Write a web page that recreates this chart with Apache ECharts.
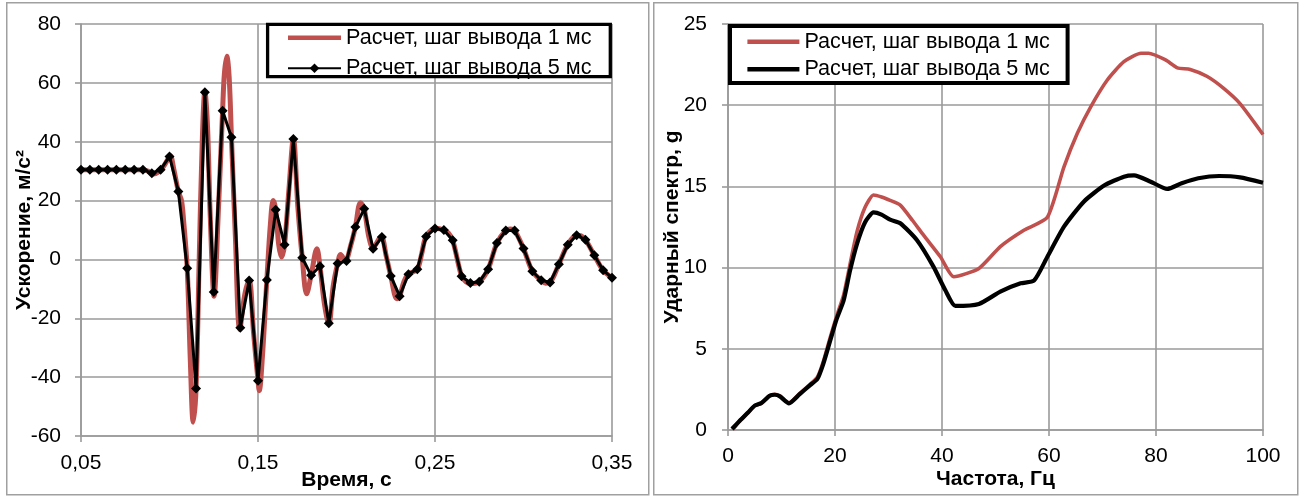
<!DOCTYPE html>
<html>
<head>
<meta charset="utf-8">
<script src="https://cdn.jsdelivr.net/npm/echarts@6/dist/echarts.min.js"></script>
<style>
  html, body { margin: 0; padding: 0; background: #fff; }
  #wrap { position: relative; width: 1300px; height: 497px; }
  #accelChart, #spectrumChart { position: absolute; top: 0; width: 650px; height: 497px; }
  #accelChart { left: 0; }
  #spectrumChart { left: 650px; }
</style>
</head>
<body>
<div id="wrap">
  <div id="accelChart"></div>
  <div id="spectrumChart"></div>
</div>
<script>
// ---- Series names ----
const nameStep1 = 'Расчет, шаг вывода 1 мс';
const nameStep5 = 'Расчет, шаг вывода 5 мс';

// ---- Acceleration, output step 1 ms (time, s / acceleration, m/s²) ----
const timeStep1 = [
  0.050, 0.085, 0.0885, 0.091, 0.0935, 0.0965, 0.100, 0.1005, 0.1025, 0.105,
  0.1068, 0.108, 0.110, 0.1118, 0.1134, 0.115, 0.1167, 0.1185, 0.120, 0.1215,
  0.123, 0.1252, 0.1275, 0.130, 0.131, 0.1324, 0.1337, 0.135, 0.1372, 0.1397,
  0.1425, 0.145, 0.1475, 0.150, 0.1507, 0.1525, 0.155, 0.157, 0.1586, 0.160,
  0.1617, 0.1633, 0.165, 0.1675, 0.170, 0.1725, 0.175, 0.1775, 0.180, 0.1833,
  0.185, 0.1875, 0.190, 0.1925, 0.195, 0.1967, 0.1993, 0.2025, 0.205, 0.2079,
  0.210, 0.2125, 0.215, 0.2195, 0.2225, 0.225, 0.2285, 0.230, 0.2325, 0.235,
  0.240, 0.2425, 0.245, 0.2505, 0.255, 0.2575, 0.260, 0.265, 0.2675, 0.270,
  0.275, 0.280, 0.285, 0.290, 0.2925, 0.295, 0.300, 0.305, 0.310, 0.3125,
  0.315, 0.320, 0.325, 0.330, 0.3325, 0.335, 0.340, 0.345, 0.350
];
const accelStep1 = [
  30.5, 30.5, 29.8, 29.0, 29.6, 31.5, 35.0, 35.2, 30.5, 23.1,
  20.0, 13.0, -3.0, -35.0, -55.3, -44.0, -2.0, 40.0, 57.0, 45.0,
  15.0, -12.5, 15.0, 50.5, 63.0, 69.0, 62.0, 41.5, 8.0, -23.8,
  -12.0, -7.2, -25.0, -41.2, -44.6, -33.0, -7.0, 12.0, 20.0, 16.9,
  5.0, 0.8, 5.0, 24.0, 41.0, 18.0, 0.6, -11.7, -5.4, 3.6,
  -2.3, -15.0, -22.0, -9.0, -1.4, 1.7, -0.5, 5.0, 11.0, 19.3,
  17.2, 8.0, 4.0, 7.8, 1.0, -5.6, -13.4, -12.5, -7.5, -5.0,
  -3.3, 2.0, 7.8, 10.6, 10.0, 9.0, 6.5, -5.7, -7.6, -8.2,
  -7.6, -3.3, 5.6, 9.8, 10.3, 9.8, 3.7, -4.0, -7.1, -8.1,
  -7.8, -1.6, 5.0, 8.2, 8.0, 6.7, 1.4, -3.7, -6.2
];

// ---- Acceleration, output step 5 ms ----
const timeStep5 = [
  0.050, 0.055, 0.060, 0.065, 0.070, 0.075, 0.080, 0.085, 0.090, 0.095,
  0.100, 0.105, 0.110, 0.115, 0.120, 0.125, 0.130, 0.135, 0.140, 0.145,
  0.150, 0.155, 0.160, 0.165, 0.170, 0.175, 0.180, 0.185, 0.190, 0.195,
  0.200, 0.205, 0.210, 0.215, 0.220, 0.225, 0.230, 0.235, 0.240, 0.245,
  0.250, 0.255, 0.260, 0.265, 0.270, 0.275, 0.280, 0.285, 0.290, 0.295,
  0.300, 0.305, 0.310, 0.315, 0.320, 0.325, 0.330, 0.335, 0.340, 0.345,
  0.350
];
const accelStep5 = [
  30.5, 30.5, 30.5, 30.5, 30.5, 30.5, 30.5, 30.5, 29.3, 30.5,
  35.0, 23.1, -3.0, -43.9, 56.8, -11.1, 50.5, 41.5, -23.2, -7.2,
  -41.2, -7.0, 16.9, 5.0, 40.9, 0.6, -5.4, -2.3, -21.7, -1.4,
  -0.5, 11.0, 17.2, 3.6, 7.6, -5.6, -12.5, -5.0, -3.3, 7.8,
  10.5, 10.0, 6.5, -5.7, -8.0, -7.6, -3.3, 5.6, 9.8, 9.8,
  3.7, -4.0, -7.1, -7.8, -1.6, 5.0, 8.2, 6.7, 1.4, -3.7,
  -6.2
];

// ---- Shock response spectrum, output step 1 ms (frequency, Hz / g) ----
const freqStep1 = [
  0.9, 2.2, 3.75, 5.0, 6.25, 7.8, 8.75, 9.7, 11.4, 13.4,
  15.3, 16.7, 17.8, 19.1, 20.3, 21.6, 22.8, 24.1, 25.6, 27.2,
  28.7, 30.3, 32.2, 34.5, 36.55, 39.7, 42.2, 46.9, 50.9, 55.3,
  59.7, 62.8, 65.3, 67.8, 70.9, 74.0, 77.2, 78.6, 81.7, 84.0,
  86.4, 89.5, 92.6, 95.7, 100
];
const srsStep1 = [
  0.03, 0.57, 1.08, 1.5, 1.65, 2.12, 2.2, 2.1, 1.68, 2.25,
  2.8, 3.25, 4.2, 5.7, 7.0, 8.3, 10.2, 12.2, 13.7, 14.47,
  14.35, 14.14, 13.85, 12.9, 12.0, 10.67, 9.44, 9.95, 11.29, 12.3,
  13.1, 16.2, 18.27, 19.9, 21.55, 22.68, 23.2, 23.2, 22.8, 22.3,
  22.2, 21.78, 21.05, 20.1, 18.2
];

// ---- Shock response spectrum, output step 5 ms ----
const freqStep5 = [
  0.75, 2.2, 3.75, 5.0, 6.25, 7.8, 8.75, 9.7, 11.4, 13.4,
  15.3, 16.7, 17.8, 19.1, 20.3, 21.6, 22.8, 24.1, 25.6, 27.2,
  28.7, 30.3, 32.2, 35.3, 38.4, 40.6, 42.5, 46.9, 50.9, 54.7,
  57.2, 59.7, 62.8, 66.5, 70.3, 74.0, 75.9, 79.0, 82.1, 84.8,
  87.9, 91.8, 95.7, 100
];
const srsStep5 = [
  0.06, 0.57, 1.08, 1.5, 1.66, 2.11, 2.17, 2.07, 1.64, 2.21,
  2.75, 3.14, 4.06, 5.5, 6.83, 7.96, 9.8, 11.45, 12.78, 13.4,
  13.26, 12.95, 12.73, 11.7, 10.06, 8.62, 7.64, 7.76, 8.52, 9.03,
  9.2, 10.67, 12.52, 14.06, 15.05, 15.6, 15.68, 15.29, 14.84, 15.19,
  15.5, 15.64, 15.56, 15.23
];

// ---- Axis settings ----
const accelAxisX = { min: 0.05, max: 0.35, interval: 0.1 };
const accelAxisY = { min: -60, max: 80, interval: 20 };
const srsAxisX = { min: 0, max: 100, interval: 20 };
const srsAxisY = { min: 0, max: 25, interval: 5 };

const RED = '#C0504D';
const GRID_GRAY = '#9a9a9a';
const FONT = "'Liberation Sans', Arial, sans-serif";
const TICK_SIZE = 21;
const TITLE_SIZE = 21;
const LEGEND_SIZE = 21.6;

const pairs = (xs, ys) => xs.map((x, i) => [x, ys[i]]);

function valueAxis(cfg, extra) {
  return Object.assign({
    type: 'value',
    min: cfg.min, max: cfg.max, interval: cfg.interval,
    axisLine: { show: true, onZero: false, lineStyle: { color: GRID_GRAY, width: 1.6 } },
    axisTick: { show: true, length: 6, lineStyle: { color: GRID_GRAY, width: 1.6 } },
    splitLine: { show: true, lineStyle: { color: GRID_GRAY, width: 1.6 } },
    nameLocation: 'middle',
    nameMoveOverlap: false,
    nameTextStyle: { color: '#000', fontSize: TITLE_SIZE, fontWeight: 'bold', fontFamily: FONT }
  }, extra);
}

function tickLabel(margin, formatter) {
  const o = { color: '#000', fontSize: TICK_SIZE, fontFamily: FONT, margin: margin };
  if (formatter) o.formatter = formatter;
  return o;
}

// Panel frame plus the framed legend box
function frameGraphics(panelLeft, panelWidth, box) {
  return [
    {
      type: 'rect', left: panelLeft, top: 2, z: -10, silent: true,
      shape: { width: panelWidth, height: 492 },
      style: { fill: '#fff', stroke: '#a0a0a0', lineWidth: 1.5 }
    },
    {
      type: 'rect', z: 5, silent: true,
      shape: { x: box.x, y: box.y, width: box.w, height: box.h },
      style: { fill: '#fff', stroke: '#000', lineWidth: box.lw }
    }
  ];
}

const linePath = 'path://M0,0H53V4.6H0Z';

function legendOpt(left, top, gap, itemWidth, icons) {
  return {
    orient: 'vertical', left: left, top: top, z: 10,
    padding: 0, itemGap: gap, itemWidth: itemWidth, itemHeight: 12,
    borderWidth: 0, backgroundColor: 'transparent',
    textStyle: { color: '#000', fontSize: LEGEND_SIZE, fontFamily: FONT },
    itemStyle: { borderWidth: 0 },
    data: [
      { name: nameStep1, icon: icons[0] },
      icons[1] ? { name: nameStep5, icon: icons[1] } : { name: nameStep5 }
    ]
  };
}

// ---- Left chart: acceleration ----
const accelChart = echarts.init(document.getElementById('accelChart'), null, { renderer: 'canvas' });
accelChart.setOption({
  animation: false,
  backgroundColor: '#fff',
  graphic: frameGraphics(6, 642, { x: 267.6, y: 24.4, w: 342.7, h: 52.2, lw: 3.3 }),
  grid: { left: 81, top: 24, width: 531, height: 412, containLabel: false, outerBoundsMode: 'none' },
  xAxis: valueAxis(accelAxisX, {
    name: 'Время, с', nameGap: 34,
    axisLabel: tickLabel(17, v => v.toFixed(2).replace('.', ','))
  }),
  yAxis: valueAxis(accelAxisY, {
    name: 'Ускорение, м/с²', nameGap: 46,
    axisLabel: tickLabel(20)
  }),
  legend: legendOpt(287, 26.8, 8.5, 53, [linePath, null]),
  series: [
    {
      name: nameStep1, type: 'line', data: pairs(timeStep1, accelStep1),
      smooth: 0.35, symbol: 'none', z: 2,
      itemStyle: { color: RED },
      lineStyle: { color: RED, width: 5 }
    },
    {
      name: nameStep5, type: 'line', data: pairs(timeStep5, accelStep5),
      symbol: 'diamond', symbolSize: 10, showSymbol: true, z: 3,
      itemStyle: { color: '#000' },
      lineStyle: { color: '#000', width: 3 }
    }
  ]
});

// ---- Right chart: shock response spectrum ----
const srsChart = echarts.init(document.getElementById('spectrumChart'), null, { renderer: 'canvas' });
srsChart.setOption({
  animation: false,
  backgroundColor: '#fff',
  graphic: frameGraphics(3, 644, { x: 80, y: 26, w: 337.6, h: 57, lw: 4 }),
  grid: { left: 78, top: 24, width: 535, height: 406, containLabel: false, outerBoundsMode: 'none' },
  xAxis: valueAxis(srsAxisX, {
    name: 'Частота, Гц', nameGap: 39,
    axisLabel: tickLabel(16)
  }),
  yAxis: valueAxis(srsAxisY, {
    name: 'Ударный спектр, g', nameGap: 45,
    axisLabel: tickLabel(21)
  }),
  legend: legendOpt(97.4, 30.7, 5.6, 52, [linePath, linePath]),
  series: [
    {
      name: nameStep1, type: 'line', data: pairs(freqStep1, srsStep1),
      smooth: 0.2, symbol: 'none', z: 2,
      itemStyle: { color: RED },
      lineStyle: { color: RED, width: 3.6 }
    },
    {
      name: nameStep5, type: 'line', data: pairs(freqStep5, srsStep5),
      smooth: 0.2, symbol: 'none', z: 3,
      itemStyle: { color: '#000' },
      lineStyle: { color: '#000', width: 4.2 }
    }
  ]
});
</script>
</body>
</html>
